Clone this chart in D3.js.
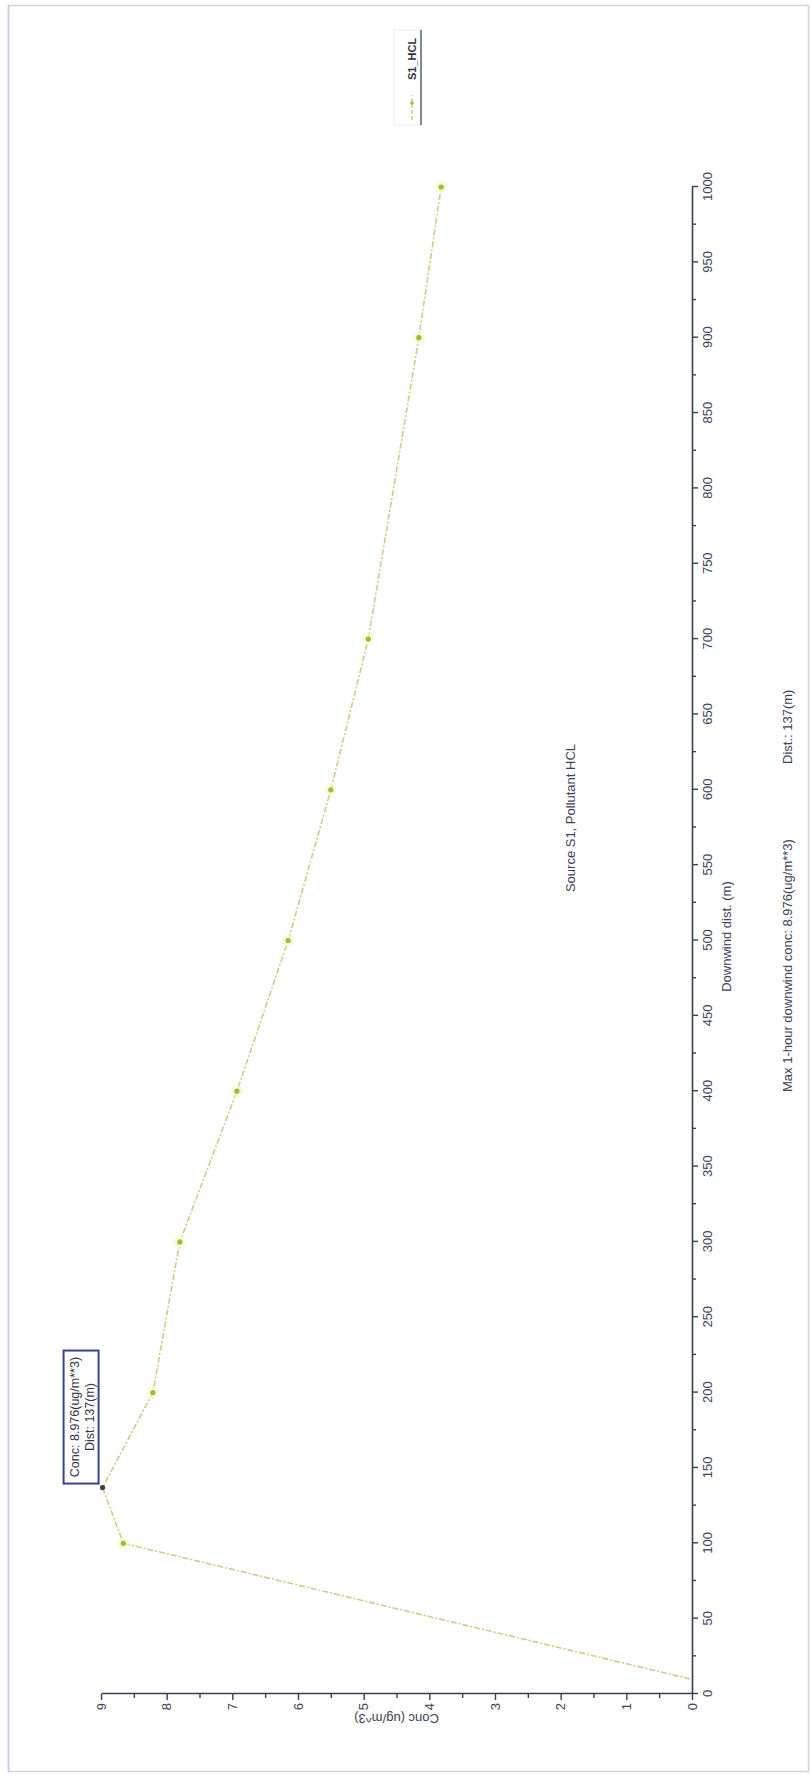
<!DOCTYPE html>
<html>
<head>
<meta charset="utf-8">
<script src="https://cdn.jsdelivr.net/npm/d3@7"></script>
<style>
  body { margin: 0; background: #fff; }
  svg { display: block; }
  text { font-family: "Liberation Sans", Arial, sans-serif; }
</style>
</head>
<body>
<svg id="chart" width="811" height="1776"></svg>
<script>
// Downwind distance (m) and 1-hour concentration (ug/m^3) for source S1, HCL
const distances = [10, 100, 137, 200, 300, 400, 500, 600, 700, 900, 1000];
const concValues = [0.03, 8.66, 8.976, 8.21, 7.80, 6.93, 6.15, 5.50, 4.93, 4.16, 3.82];
const maxDist = 137;
const maxConc = 8.976;

const distTicks = d3.range(0, 1001, 25);
const concTicks = d3.range(0, 9.001, 0.5);

const titleText = "Source S1, Pollutant HCL";
const xLabel = "Downwind dist. (m)";
const yLabel = "Conc (ug/m^3)";
const seriesName = "S1_HCL";

const points = distances.map((d, i) => ({ d: d, c: concValues[i] }));

const svg = d3.select("#chart");
const W = 1776; // long side: the chart is laid out landscape and turned a quarter
const axisColor = "#3b3d55";
const textColor = "#404157";

// outer frame
svg.append("rect")
  .attr("x", 8.5).attr("y", 5.5)
  .attr("width", 800).attr("height", 1766)
  .attr("fill", "none").attr("stroke", "#d2d2d8").attr("stroke-width", 1.5);
svg.append("line")
  .attr("x1", 8.5).attr("x2", 8.5).attr("y1", 5.5).attr("y2", 1771.5)
  .attr("stroke", "#c9c9ea").attr("stroke-width", 1.5);

// landscape chart group, rotated so text reads bottom-to-top
const g = svg.append("g").attr("transform", `translate(0,${W}) rotate(-90)`);

const x = d3.scaleLinear().domain([0, 1000]).range([82, 1589]);
const y = d3.scaleLinear().domain([0, 9]).range([692, 101]);

// distance axis
const xAxis = d3.axisBottom(x)
  .tickValues(distTicks)
  .tickSize(6).tickSizeOuter(0).tickPadding(5)
  .tickFormat(d => d % 50 === 0 ? d : "");
const gx = g.append("g").attr("transform", `translate(0,${y(0)})`).call(xAxis);
gx.select(".domain").attr("stroke", axisColor).attr("stroke-width", 1.6);
gx.selectAll(".tick line").attr("stroke", axisColor).attr("stroke-width", 1.4)
  .attr("y2", d => d % 50 === 0 ? 6 : 4);
gx.selectAll(".tick text").attr("fill", textColor).attr("font-size", 13);

// concentration axis
const yAxis = d3.axisLeft(y)
  .tickValues(concTicks)
  .tickSize(6).tickSizeOuter(0).tickPadding(3)
  .tickFormat(d => Number.isInteger(d) ? d : "");
const gy = g.append("g").attr("transform", `translate(${x(0)},0)`).call(yAxis);
gy.select(".domain").attr("stroke", axisColor).attr("stroke-width", 1.6);
gy.selectAll(".tick line").attr("stroke", axisColor).attr("stroke-width", 1.4)
  .attr("x2", d => Number.isInteger(d) ? -6 : -4);
gy.selectAll(".tick text").attr("fill", textColor).attr("font-size", 13);

// axis titles
g.append("text")
  .attr("transform", `translate(57,${(y(0) + y(9)) / 2}) rotate(-90)`)
  .attr("text-anchor", "middle").attr("dy", "0.35em")
  .attr("font-size", 13).attr("fill", textColor)
  .text(yLabel);

g.append("text")
  .attr("x", (x(0) + x(1000)) / 2 + 4).attr("y", 726)
  .attr("text-anchor", "middle").attr("dy", "0.35em")
  .attr("font-size", 13).attr("fill", textColor)
  .text(xLabel);

// chart title
g.append("text")
  .attr("x", 958).attr("y", 570)
  .attr("text-anchor", "middle").attr("dy", "0.35em")
  .attr("font-size", 13).attr("fill", textColor)
  .text(titleText);

// footer summary
g.append("text")
  .attr("x", 684).attr("y", 787).attr("dy", "0.35em")
  .attr("font-size", 13).attr("fill", textColor)
  .text(`Max 1-hour downwind conc: ${maxConc}(ug/m**3)`);
g.append("text")
  .attr("x", 1012).attr("y", 787).attr("dy", "0.35em")
  .attr("font-size", 13).attr("fill", textColor)
  .text(`Dist.: ${maxDist}(m)`);

// concentration profile
const line = d3.line().x(p => x(p.d)).y(p => y(p.c));
g.append("path")
  .datum(points)
  .attr("d", line)
  .attr("fill", "none")
  .attr("stroke", "#d8c68a")
  .attr("stroke-width", 1.6)
  .attr("stroke-dasharray", "6,2,2,2");

const markers = points.filter(p => p.c > 1 && p.d !== maxDist);
g.selectAll("circle.glow").data(markers).join("circle")
  .attr("class", "glow")
  .attr("cx", p => x(p.d)).attr("cy", p => y(p.c)).attr("r", 6)
  .attr("fill", "#f6f6cf").attr("opacity", 0.7);
g.selectAll("circle.pt").data(markers).join("circle")
  .attr("class", "pt")
  .attr("cx", p => x(p.d)).attr("cy", p => y(p.c)).attr("r", 2.6)
  .attr("fill", "#9fba36");

// peak marker and annotation
const px = x(maxDist), py = y(maxConc);
g.append("circle").attr("cx", px).attr("cy", py).attr("r", 2.6).attr("fill", "#3e3f48");
const boxW = 133, boxH = 35;
g.append("rect")
  .attr("x", px + 4).attr("y", py - 4 - boxH)
  .attr("width", boxW).attr("height", boxH)
  .attr("fill", "#fff").attr("stroke", "#34448f").attr("stroke-width", 2);
g.append("text")
  .attr("x", px + 4 + boxW / 2).attr("y", py - 4 - boxH + 11).attr("dy", "0.35em")
  .attr("text-anchor", "middle").attr("font-size", 12.5).attr("fill", "#34354a")
  .text(`Conc: ${maxConc}(ug/m**3)`);
g.append("text")
  .attr("x", px + 4 + boxW / 2).attr("y", py - 4 - boxH + 26).attr("dy", "0.35em")
  .attr("text-anchor", "middle").attr("font-size", 12.5).attr("fill", "#34354a")
  .text(`Dist: ${maxDist}(m)`);

// legend
const lg = g.append("g").attr("transform", "translate(1651,394)");
lg.append("rect").attr("width", 95).attr("height", 27)
  .attr("fill", "#fff").attr("stroke", "#ececf2").attr("stroke-width", 1);
lg.append("line").attr("x1", 0).attr("x2", 95).attr("y1", 27).attr("y2", 27)
  .attr("stroke", "#55566a").attr("stroke-width", 1.4);
lg.append("line").attr("x1", 5).attr("x2", 30).attr("y1", 18).attr("y2", 18)
  .attr("stroke", "#d8c68a").attr("stroke-width", 1.4).attr("stroke-dasharray", "4,2");
lg.append("circle").attr("cx", 22).attr("cy", 18).attr("r", 1.8).attr("fill", "#9fba36");
lg.append("text").attr("x", 45).attr("y", 18).attr("dy", "0.35em")
  .attr("font-size", 11).attr("font-weight", "bold").attr("fill", "#2f3040")
  .text(seriesName);
</script>
</body>
</html>
